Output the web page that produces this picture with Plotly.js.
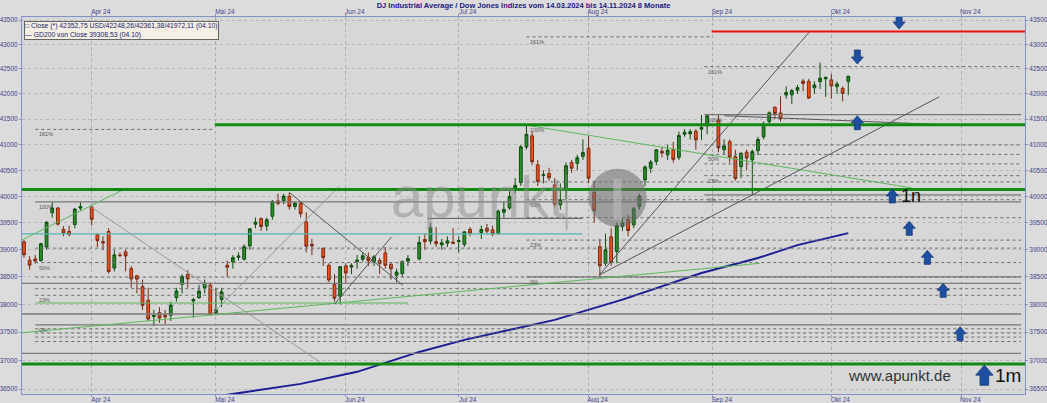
<!DOCTYPE html>
<html><head><meta charset="utf-8">
<script src="https://cdn.plot.ly/plotly-3.0.1.min.js"></script>
<style>html,body{margin:0;padding:0;background:#dcdcdc;}#chart{width:1047px;height:403px;}</style>
</head><body><div id="chart"></div>
<script>
// ---------------- data ----------------
const dates = [
'2024-03-14','2024-03-15','2024-03-18','2024-03-19','2024-03-20','2024-03-21','2024-03-22','2024-03-25','2024-03-26','2024-03-27','2024-03-28',
'2024-04-01','2024-04-02','2024-04-03','2024-04-04','2024-04-05','2024-04-08','2024-04-09','2024-04-10','2024-04-11','2024-04-12','2024-04-15','2024-04-16','2024-04-17','2024-04-18','2024-04-19','2024-04-22','2024-04-23','2024-04-24','2024-04-25','2024-04-26','2024-04-29','2024-04-30',
'2024-05-01','2024-05-02','2024-05-03','2024-05-06','2024-05-07','2024-05-08','2024-05-09','2024-05-10','2024-05-13','2024-05-14','2024-05-15','2024-05-16','2024-05-17','2024-05-20','2024-05-21','2024-05-22','2024-05-23','2024-05-24','2024-05-28','2024-05-29','2024-05-30','2024-05-31',
'2024-06-03','2024-06-04','2024-06-05','2024-06-06','2024-06-07','2024-06-10','2024-06-11','2024-06-12','2024-06-13','2024-06-14','2024-06-17','2024-06-18','2024-06-20','2024-06-21','2024-06-24','2024-06-25','2024-06-26','2024-06-27','2024-06-28',
'2024-07-01','2024-07-02','2024-07-03','2024-07-05','2024-07-08','2024-07-09','2024-07-10','2024-07-11','2024-07-12','2024-07-15','2024-07-16','2024-07-17','2024-07-18','2024-07-19','2024-07-22','2024-07-23','2024-07-24','2024-07-25','2024-07-26','2024-07-29','2024-07-30','2024-07-31',
'2024-08-01','2024-08-02','2024-08-05','2024-08-06','2024-08-07','2024-08-08','2024-08-09','2024-08-12','2024-08-13','2024-08-14','2024-08-15','2024-08-16','2024-08-19','2024-08-20','2024-08-21','2024-08-22','2024-08-23','2024-08-26','2024-08-27','2024-08-28','2024-08-29','2024-08-30',
'2024-09-03','2024-09-04','2024-09-05','2024-09-06','2024-09-09','2024-09-10','2024-09-11','2024-09-12','2024-09-13','2024-09-16','2024-09-17','2024-09-18','2024-09-19','2024-09-20','2024-09-23','2024-09-24','2024-09-25','2024-09-26','2024-09-27','2024-09-30',
'2024-10-01','2024-10-02','2024-10-03','2024-10-04'];
const open = [39146,38807,38830,38800,39050,39690,39780,39380,39340,39470,39780,
39800,39280,39150,39340,38660,38900,38960,38650,38520,38320,38075,37780,37850,37800,37804,38122,38365,38541,38060,38120,38300,38347,
37850,38086,38713,38775,38860,38824,39069,39475,39581,39440,39625,39915,39915,40000,39810,39864,39518,39100,39021,38713,38358,38146,
38700,38680,38780,38824,38860,38780,38800,38940,38730,38530,38560,38790,38830,39190,39160,39150,39090,39120,39140,
39150,39100,39380,39320,39400,39370,39300,39700,39780,40160,40265,40950,41168,40605,40400,40440,40221,39840,40160,40650,40637,40770,
40927,40075,39056,38750,39240,38966,39430,39570,39463,39808,40316,40540,40670,40870,40800,40900,40750,41200,41210,41260,41300,41363,
41480,40900,41056,40764,40570,40850,40700,40880,41150,41450,41731,41620,41976,41980,42070,42257,42250,42120,42245,42300,
42280,42144,42110,42248.26];
const high = [39180,38880,38900,39130,39530,39889,39800,39440,39450,39780,39890,
39820,39300,39250,39400,39000,38950,39000,38700,38530,38450,38300,37900,37950,37900,38050,38300,38550,38620,38120,38350,38450,38400,
38300,38300,38800,38900,38950,39100,39400,39600,39600,39600,39930,40051,40050,40078,39900,39900,39700,39200,39050,38750,38550,38700,
38750,38750,38900,38950,38950,38900,38850,39050,38750,38650,38800,38900,39250,39300,39500,39420,39200,39250,39400,
39250,39350,39420,39450,39480,39450,39750,39900,40100,40350,40990,41376,41250,40700,40500,40550,40350,40250,40650,40700,40800,41100,
41170,40300,39200,39300,39400,39500,39600,39650,39800,40050,40600,40700,40900,40950,41000,41050,41250,41300,41300,41300,41580,41585,
41600,41100,41100,40900,40850,40900,40900,41150,41450,41650,41750,41950,42150,42100,42180,42300,42300,42250,42628,42345,
42400,42250,42150,42361.38];
const low = [38850,38630,38740,38780,39000,39600,39450,39250,39250,39400,39730,
39450,39050,38990,38560,38600,38860,38600,38300,38200,37900,37700,37610,37670,37650,37700,38050,38200,38300,37760,38100,38200,37800,
37800,37950,38500,38650,38800,38800,39000,39400,39350,39350,39560,39830,39850,39750,39750,39600,38950,38900,38700,38400,38050,38000,
38400,38550,38650,38780,38700,38700,38550,38650,38450,38400,38500,38700,38800,39000,39100,39050,39000,39050,39100,
38950,39050,39250,39200,39300,39250,39280,39600,39750,40050,40200,40900,40600,40200,40250,40300,39800,39750,39950,40450,40500,40700,
40250,39500,38499,38700,38700,38750,39350,39250,39400,39750,40200,40450,40600,40750,40700,40650,40700,41150,41100,40900,41090,41200,
40850,40800,40650,40300,40350,40500,40030,40800,41100,41400,41500,41450,41900,41800,42000,42050,41900,42000,42100,41940,
41900,42000,41850,41972.11];
const close = [38906,38715,38790,39111,39512,39781,39476,39314,39282,39760,39807,
39567,39170,39127,38597,38904,38893,38884,38462,38459,37983,37735,37799,37753,37775,37986,38240,38504,38461,38086,38240,38386,37816,
37903,38226,38676,38852,38884,39056,39388,39513,39432,39558,39908,39869,40004,39807,39873,39671,39065,39070,38853,38442,38111,38686,
38571,38711,38807,38886,38799,38868,38747,38712,38647,38589,38778,38835,39135,39150,39411,39112,39128,39164,39119,
39170,39332,39308,39376,39345,39292,39721,39754,40001,40212,40954,41198,40665,40288,40415,40358,39854,39935,40589,40540,40743,40843,
40348,39737,38703,38998,38763,39446,39498,39357,39766,40008,40563,40660,40897,40835,40890,40713,41175,41241,41251,41091,41335,41563,
40937,40975,40756,40345,40830,40737,40862,41097,41394,41622,41606,41503,42025,42063,42125,42208,41915,42175,42313,42330,
42157,42197,42012,42352.75];
// GD200 (200-day average) read at sample dates
const gdDates = ['2024-05-01','2024-05-03','2024-05-22','2024-06-05','2024-06-20','2024-07-02','2024-07-24','2024-08-05','2024-08-09','2024-08-29','2024-09-12','2024-09-23','2024-10-04'];
const gd200 = [36330,36400,36590,36800,37150,37363,37720,37960,38085,38570,38846,39085,39308.53];

// axis ticks
const monthTicks = ['2024-04-01','2024-05-01','2024-06-03','2024-07-01','2024-08-01','2024-09-02','2024-10-01','2024-11-01'];
const monthLabels = ['Apr 24','Mai 24','Jun 24','Jul 24','Aug 24','Sep 24','Okt 24','Nov 24'];
const yTicks = [36500,37000,37500,38000,38500,39000,39500,40000,40500,41000,41500,42000,42500,43000,43500];

// analysis levels (prices)
const fibRatios = [0, 0.236, 0.382, 0.5, 0.618, 1, 1.618];
const fibLeft = [37629, 39895];
const fibMid = [38499, 41376];
const fibRight = [40030, 41585];
const greenLevels = [36937, 40130];
const greenLevelLate = 41389;
const redLevel = 43263;
const tealLevel = 39295;
const greyLevels = [37125, 37826, 38381];
const dottedLevels = [37335, 37413, 37485, 37561, 38284];
// trend lines: [business-day index, price, business-day index, price]
const trendGreen = [[-0.35, 39182, 17.5, 40124], [-0.35, 37490, 130.3, 38748], [89.6, 41368, 157.3, 40162]];
const trendGrey = [[11.9, 39800, 52.4, 36972], [33.5, 37844, 55.9, 40198]];
const trendDark = [[47.1, 40067, 67.1, 38346], [55, 38006, 65.1, 39239], [101.9, 38533, 139.1, 43252], [101.9, 38533, 162.1, 41939], [124.1, 41565, 162.7, 41389]];
// signal arrows: [business-day index, price]
const arrowsUp = [[147.6, 41565], [153.8, 40143], [156.8, 39530], [160, 38988], [162.8, 38381], [165.8, 37597]];
const arrowsDown = [[155.0, 43314], [147.6, 42599]];
const arrowBig = [170.1, 36920];

// ---------------- helpers ----------------
function bd(i){
  const d = new Date(Date.UTC(2024,2,14));
  const n = Math.floor(i), f = i - n;
  let c = 0;
  if (n >= 0) { while (c < n) { d.setUTCDate(d.getUTCDate()+1); const w = d.getUTCDay(); if (w!==0 && w!==6) c++; } }
  else { while (c > n) { d.setUTCDate(d.getUTCDate()-1); const w = d.getUTCDay(); if (w!==0 && w!==6) c--; } }
  return new Date(d.getTime() + f*86400000).toISOString().slice(0,19).replace('T',' ');
}
const L = v => Math.log10(v);
const X0 = -0.35, X1 = 177.3, XR = 176.6;

const shapes = [];
const annotations = [];
function hline(i0, i1, v, color, width, dash){
  shapes.push({type:'line', xref:'x', yref:'y', x0:bd(i0), x1:bd(i1), y0:v, y1:v, line:{color, width, dash:dash||'solid'}});
}
function seg(a, color, width){
  shapes.push({type:'line', xref:'x', yref:'y', x0:bd(a[0]), y0:a[1], x1:bd(a[2]), y1:a[3], line:{color, width}});
}
function label(i, v, t, size){
  annotations.push({xref:'x', yref:'y', x:bd(i), y:L(v), text:t, showarrow:false, xanchor:'left', yanchor:'top', font:{family:'Liberation Sans', size:size||5.5, color:'#555'}});
}

// fib sets
function fib(set, start, endTop){
  const lo = set[0], hi = set[1];
  fibRatios.forEach(r => {
    const v = lo + r*(hi-lo);
    const end = r > 1 ? endTop : XR;
    if (r === 0 || r === 1) hline(start, end, v, '#777', 1.3);
    else hline(start, end, v, '#6b6b6b', 1, 'dot');
    const pct = {0:'0%', 0.236:'23%', 0.5:'50%', 1:'100%', 1.618:'161%'}[r];
    if (pct) label(start+0.3, v, pct);
  });
}
fib(fibLeft, 2, 33.8);
fib(fibMid, 89, 121.8);
fib(fibRight, 120.5, XR);

greyLevels.forEach(v => hline(X0, XR, v, '#7a7a7a', 1.3));
dottedLevels.forEach(v => hline(2, XR, v, '#6b6b6b', 1, 'dot'));
hline(X0, 98.9, tealLevel, '#56b4b4', 1.2);
hline(2, 68, 38024, '#5cb85c', 1.2);
hline(71.5, 98.9, 39586, '#555', 1);
trendGreen.forEach(a => seg(a, '#5cb85c', 1));
trendGrey.forEach(a => seg(a, '#9a9a9a', 1));
trendDark.forEach(a => seg(a, '#555', 1));
greenLevels.forEach(v => shapes.push({type:'line', xref:'paper', yref:'y', x0:0, x1:1, y0:v, y1:v, line:{color:'#128a12', width:3}}));
hline(33.8, X1, greenLevelLate, '#128a12', 3);
hline(121.8, X1, redLevel, '#ee1111', 2);

// watermark
annotations.push({xref:'x', yref:'y', x:bd(80.4), y:L(39991), text:'apunkt', showarrow:false, font:{family:'Liberation Sans', size:58, color:'rgba(140,140,140,0.5)'}});
shapes.push({type:'line', xref:'x', yref:'y', x0:bd(96.1), x1:bd(96.1), y0:39370, y1:40418, line:{color:'rgba(130,130,130,0.5)', width:2}});
shapes.push({type:'circle', xref:'x', yref:'y', x0:bd(100), x1:bd(110.3), y0:39426, y1:40530, fillcolor:'rgba(110,110,110,0.55)', line:{width:0}});
shapes.push({type:'rect', xref:'x', yref:'y', x0:bd(104.4), x1:bd(105.8), y0:39560, y1:40330, fillcolor:'rgba(190,190,190,0.55)', line:{width:0}});

// arrows
function arrow(i, v, dir, s){
  s = s || 1;
  const k = dir > 0 ? -1 : 1;
  const p = `M 0 0 L ${6*s} ${k*7*s} L ${3*s} ${k*7*s} L ${3*s} ${k*14*s} L ${-3*s} ${k*14*s} L ${-3*s} ${k*7*s} L ${-6*s} ${k*7*s} Z`;
  shapes.push({type:'path', xref:'x', yref:'y', xsizemode:'pixel', ysizemode:'pixel', xanchor:bd(i), yanchor:v, path:p, fillcolor:'#1f4fa0', line:{color:'#163a7a', width:0.8}});
}
arrowsUp.forEach(a => arrow(a[0], a[1], 1));
arrowsDown.forEach(a => arrow(a[0], a[1], -1));
arrow(arrowBig[0], arrowBig[1], 1, 1.45);

annotations.push({xref:'x', yref:'y', x:bd(154.9), y:L(40010), text:'1n', showarrow:false, xanchor:'left', font:{family:'Liberation Sans', size:18, color:'#111'}});
annotations.push({xref:'x', yref:'y', x:bd(171.6), y:L(36728), text:'1m', showarrow:false, xanchor:'left', font:{family:'Liberation Sans', size:19, color:'#111'}});
annotations.push({xref:'x', yref:'y', x:bd(155), y:L(36728), text:'www.apunkt.de', showarrow:false, font:{family:'Liberation Sans Narrow, Liberation Sans', size:15, color:'#333'}});

// legend box
annotations.push({xref:'paper', yref:'paper', x:0.002, y:0.99, xanchor:'left', yanchor:'top', align:'left', showarrow:false,
  text:'□ Close (*) 42352,75 USD/42248,26/42361,38/41972,11 (04.10)<br><span style="color:#1c1c96">—</span> GD200 von Close 39308,53 (04.10)',
  font:{family:'Liberation Sans, DejaVu Sans', size:6.8, color:'#1a1a6e'}, bgcolor:'#f3efe3', bordercolor:'#666', borderwidth:1, borderpad:0});

// ---------------- traces ----------------
const traces = [
  {type:'candlestick', x:dates, open, high, low, close, xaxis:'x', yaxis:'y',
   increasing:{line:{color:'#0d4d0d', width:1}, fillcolor:'#2a8c2a'},
   decreasing:{line:{color:'#7a2a10', width:1}, fillcolor:'#f24f1c'},
   showlegend:false, hoverinfo:'skip'},
  {type:'scatter', mode:'lines', x:gdDates, y:gd200, line:{color:'#1c1c96', width:2}, showlegend:false, hoverinfo:'skip'},
  {type:'scatter', mode:'markers', x:[dates[0]], y:[close[0]], xaxis:'x2', yaxis:'y2', marker:{opacity:0}, showlegend:false, hoverinfo:'skip'}
];

const tickFont = {family:'Liberation Sans', size:6.5, color:'#44448a'};
const xCommon = {type:'date', rangebreaks:[{bounds:['sat','mon']}], range:[bd(X0), bd(X1)], autorange:false,
  tickmode:'array', tickvals:monthTicks, ticktext:monthLabels, tickfont:tickFont, ticklabelshift:9, ticklabelstandoff:-3,
  ticks:'outside', ticklen:2, tickcolor:'#7f93c7', showline:true, linecolor:'#7f93c7', linewidth:1, zeroline:false, fixedrange:true};
const yCommon = {type:'log', range:[4.56127, 4.63911], autorange:false, tickmode:'array', tickvals:yTicks, ticktext:yTicks.map(String),
  tickfont:tickFont, ticks:'outside', ticklen:2, tickcolor:'#7f93c7', showline:true, linecolor:'#7f93c7', linewidth:1, zeroline:false, fixedrange:true};

const layout = {
  width:1047, height:403,
  margin:{l:22, r:22, t:17, b:9},
  paper_bgcolor:'#dcdcdc', plot_bgcolor:'#d7d7d7',
  showlegend:false,
  title:{text:'<b>DJ Industrial Average / Dow Jones Indizes vom 14.03.2024 bis 14.11.2024 8 Monate</b>', font:{family:'Liberation Sans', size:7.5, color:'#1a1a80'}, x:0.5, xanchor:'center', xref:'container', y:1-5/403, yanchor:'middle', yref:'container'},
  xaxis: Object.assign({}, xCommon, {side:'bottom', anchor:'y', showgrid:true, gridcolor:'#ababab', griddash:'dot', gridwidth:1, rangeslider:{visible:false}}),
  xaxis2: Object.assign({}, xCommon, {side:'top', overlaying:'x', anchor:'y2', showgrid:false}),
  yaxis: Object.assign({}, yCommon, {side:'left', anchor:'x', showgrid:true, gridcolor:'#b8b8b8', griddash:'dot', gridwidth:1}),
  yaxis2: Object.assign({}, yCommon, {side:'right', overlaying:'y', anchor:'x2', showgrid:false}),
  shapes, annotations
};
Plotly.newPlot('chart', traces, layout, {staticPlot:true, displayModeBar:false});
</script></body></html>
